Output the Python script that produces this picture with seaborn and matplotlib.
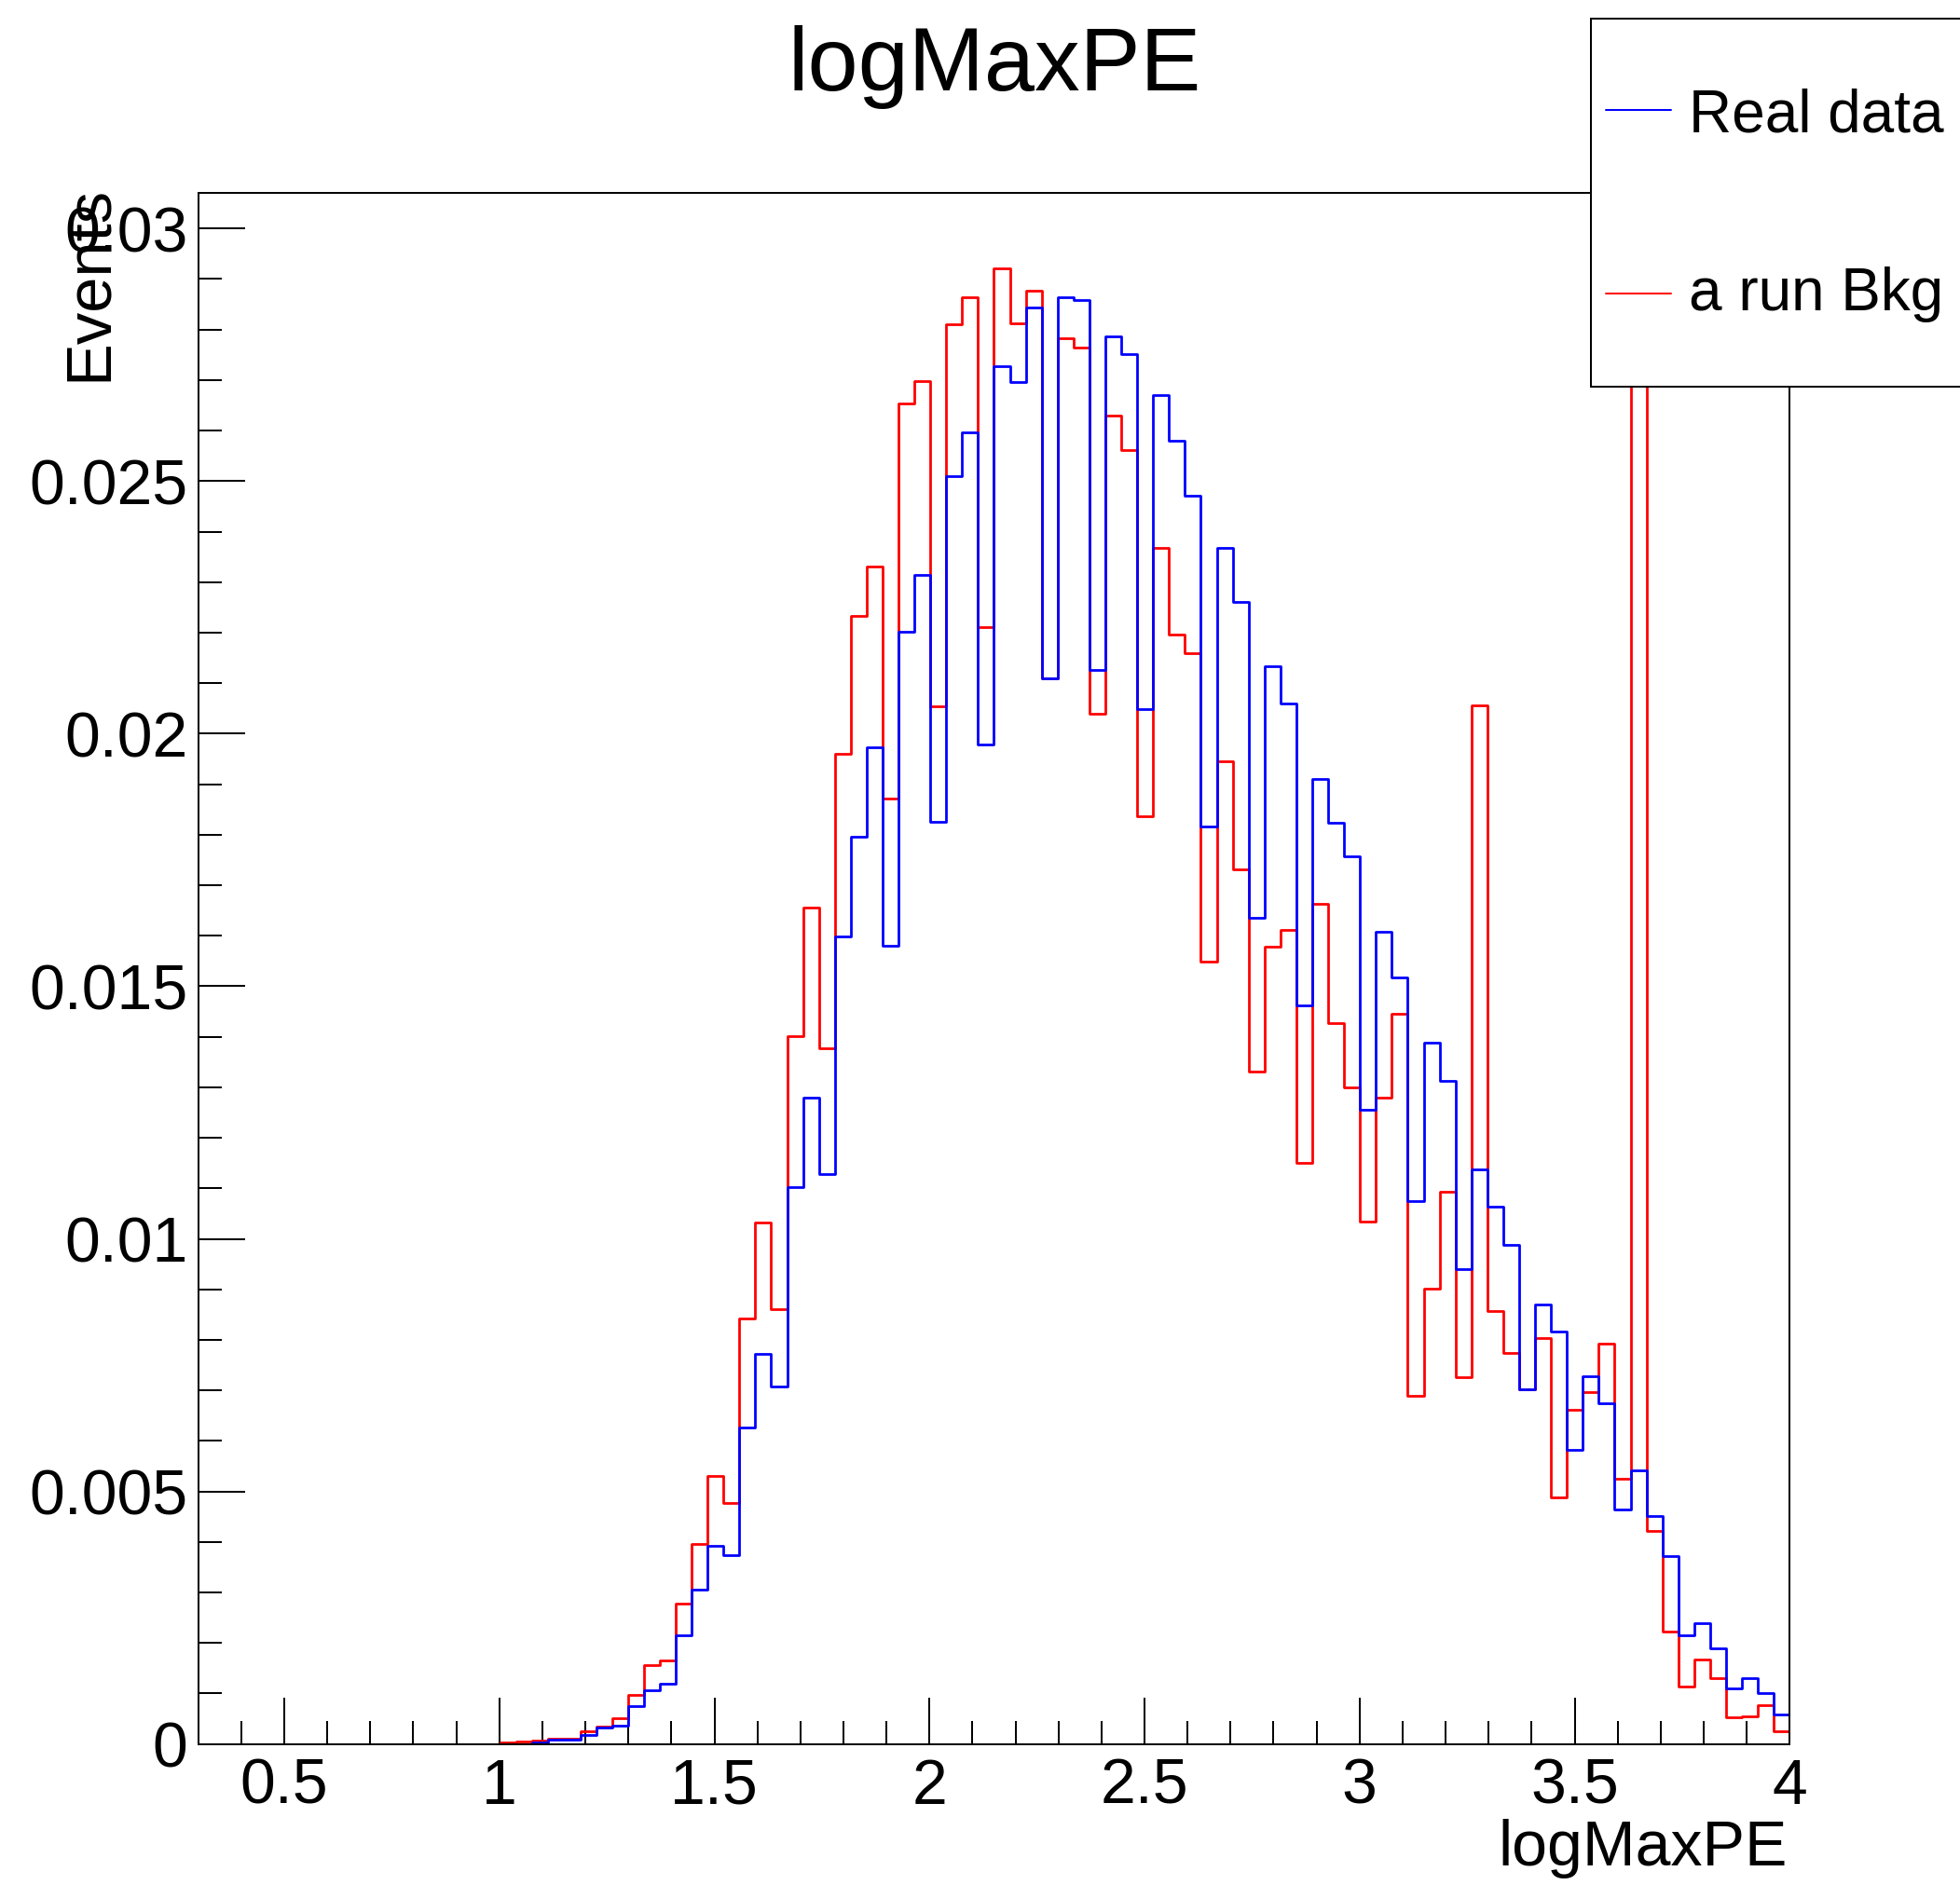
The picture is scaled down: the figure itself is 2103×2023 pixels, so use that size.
import numpy as np
import pandas as pd
import matplotlib
matplotlib.use("Agg")
import matplotlib.pyplot as plt
from matplotlib.patches import Rectangle
from matplotlib.lines import Line2D
from matplotlib.ticker import MultipleLocator
import seaborn as sns

# ---------------- data ----------------
x_min, x_max, n_bins = 0.3, 4.0, 100

real_data = [
    0, 0, 0, 0, 0, 0, 0, 0, 0, 0,
    0, 0, 0, 0, 0, 0, 0, 0, 0, 0,
    0, 0.00003, 0.00008, 0.00008, 0.00018, 0.00032, 0.00037, 0.00075, 0.00107, 0.00120,
    0.00216, 0.00306, 0.00393, 0.00374, 0.00627, 0.00773, 0.00708, 0.01102, 0.01280, 0.01128,
    0.01599, 0.01796, 0.01973, 0.01580, 0.02201, 0.02314, 0.01825, 0.02509, 0.02597, 0.01978,
    0.02728, 0.02697, 0.02843, 0.02110, 0.02864, 0.02859, 0.02127, 0.02787, 0.02752, 0.02049,
    0.02671, 0.02579, 0.02472, 0.01816, 0.02368, 0.02260, 0.01635, 0.02133, 0.02060, 0.01463,
    0.01910, 0.01824, 0.01758, 0.01256, 0.01607, 0.01517, 0.01075, 0.01389, 0.01313, 0.00940,
    0.01138, 0.01063, 0.00988, 0.00703, 0.00870, 0.00817, 0.00583, 0.00728, 0.00675, 0.00464,
    0.00541, 0.00451, 0.00372, 0.00215, 0.00239, 0.00189, 0.00111, 0.00130, 0.00100, 0.00058,
]

a_run_bkg = [
    0, 0, 0, 0, 0, 0, 0, 0, 0, 0,
    0, 0, 0, 0, 0, 0, 0, 0, 0, 0.00004,
    0.00005, 0.00006, 0.00010, 0.00010, 0.00026, 0.00035, 0.00052, 0.00097, 0.00156, 0.00165,
    0.00278, 0.00396, 0.00531, 0.00478, 0.00843, 0.01032, 0.00860, 0.01401, 0.01656, 0.01377,
    0.01961, 0.02233, 0.02330, 0.01872, 0.02653, 0.02698, 0.02055, 0.02811, 0.02864, 0.02211,
    0.02922, 0.02812, 0.02876, 0.02110, 0.02782, 0.02765, 0.02039, 0.02630, 0.02561, 0.01837,
    0.02368, 0.02196, 0.02160, 0.01548, 0.01945, 0.01732, 0.01332, 0.01578, 0.01611, 0.01151,
    0.01663, 0.01427, 0.01299, 0.01035, 0.01279, 0.01445, 0.00690, 0.00901, 0.01094, 0.00726,
    0.02056, 0.00857, 0.00774, 0.00703, 0.00803, 0.00488, 0.00662, 0.00696, 0.00792, 0.00525,
    0.04800, 0.00421, 0.00222, 0.00113, 0.00167, 0.00130, 0.00053, 0.00054, 0.00077, 0.00025,
]

series_names = ["Real data", "a run Bkg"]
series_colors = ["#0000ff", "#ff0000"]

x_ticks = [0.5, 1.0, 1.5, 2.0, 2.5, 3.0, 3.5, 4.0]
x_tick_labels = ["0.5", "1", "1.5", "2", "2.5", "3", "3.5", "4"]
y_ticks = [0, 0.005, 0.01, 0.015, 0.02, 0.025, 0.03]
y_tick_labels = ["0", "0.005", "0.01", "0.015", "0.02", "0.025", "0.03"]
y_max = 0.0307

title_text = "logMaxPE"
x_label = "logMaxPE"
y_label = "Events"

# ---------------- style ----------------
sns.set_style("ticks")
plt.rcParams["font.family"] = ["Liberation Sans", "DejaVu Sans"]
plt.rcParams["text.color"] = "black"
plt.rcParams["xtick.color"] = "black"
plt.rcParams["ytick.color"] = "black"
plt.rcParams["xtick.labelcolor"] = "black"
plt.rcParams["ytick.labelcolor"] = "black"

W, H = 2103, 2023
fig = plt.figure(figsize=(W / 100, H / 100), dpi=100)
fig.patch.set_facecolor("white")

ax_l, ax_r, ax_t, ax_b = 212.7, 1920.3, 207.3, 1871.7
ax = fig.add_axes([ax_l / W, 1 - ax_b / H, (ax_r - ax_l) / W, (ax_b - ax_t) / H])

edges = np.linspace(x_min, x_max, n_bins + 1)
centers = 0.5 * (edges[:-1] + edges[1:])
df = pd.DataFrame({
    "logMaxPE": np.concatenate([centers, centers]),
    "weight": np.concatenate([real_data, a_run_bkg]),
    "series": [series_names[0]] * n_bins + [series_names[1]] * n_bins,
})

# background run first, real data on top
for name, color in [(series_names[1], series_colors[1]), (series_names[0], series_colors[0])]:
    sns.histplot(data=df[df["series"] == name], x="logMaxPE", weights="weight",
                 bins=edges.tolist(), element="step", fill=False, color=color,
                 linewidth=2.0, ax=ax)

ax.set_xlim(x_min, x_max)
ax.set_ylim(0, y_max)
ax.set_xlabel("")
ax.set_ylabel("")

for s in ax.spines.values():
    s.set_visible(True)
    s.set_linewidth(1.44)
    s.set_color("black")

ax.set_xticks(x_ticks, x_tick_labels)
ax.set_yticks(y_ticks, y_tick_labels)
ax.xaxis.set_minor_locator(MultipleLocator(0.1))
ax.yaxis.set_minor_locator(MultipleLocator(0.001))
ax.tick_params(which="both", direction="in", top=False, right=False,
               width=1.44, color="black", labelcolor="black", labelsize=49)
ax.tick_params(which="major", length=36)
ax.tick_params(which="minor", length=18)
ax.tick_params(axis="x", which="major", pad=10)
ax.tick_params(axis="y", which="major", pad=8)

# title and axis titles (ROOT-like placement)
fig.text(1067 / W, 1 - 97 / H, title_text, ha="center", va="baseline", fontsize=70,
         color="black")
fig.text(1918 / W, 1 - 2002 / H, x_label, ha="right", va="baseline", fontsize=49,
         color="black")
fig.text(114 / W, 1 - 199 / H, y_label, ha="right", va="baseline", rotation=90,
         rotation_mode="anchor", fontsize=49.5, color="black")

# legend box (partly outside the canvas, as in the reference)
leg_l, leg_t, leg_b = 1706.7, 20, 415
fig.add_artist(Rectangle((leg_l / W, 1 - leg_b / H), (2120 - leg_l) / W, (leg_b - leg_t) / H,
                         transform=fig.transFigure, facecolor="white", edgecolor="black",
                         linewidth=1.44, zorder=10, clip_on=False))
for name, color, ly, ty in [(series_names[0], series_colors[0], 118.3, 141.7),
                            (series_names[1], series_colors[1], 315.0, 332.7)]:
    fig.add_artist(Line2D([1722.7 / W, 1793.3 / W], [1 - ly / H, 1 - ly / H],
                          transform=fig.transFigure, color=color, linewidth=1.44, zorder=11))
    fig.text(1811.7 / W, 1 - ty / H, name, ha="left", va="baseline", fontsize=46,
             color="black", zorder=12)

fig.savefig("out.png", dpi=100, facecolor="white")
